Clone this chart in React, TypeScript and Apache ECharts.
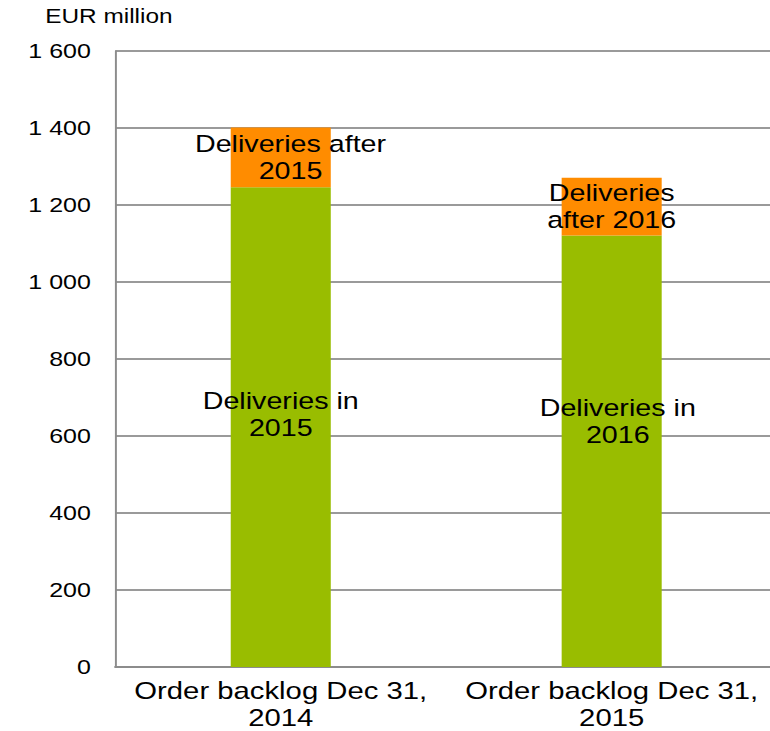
import React, { useEffect, useRef } from "react";
import * as echarts from "echarts";

const categories = ["Order backlog Dec 31,\n2014", "Order backlog Dec 31,\n2015"];
const deliveriesIn = [1246, 1121];
const deliveriesAfter = [155, 150];
const inLabels = ["Deliveries in\n2015", "Deliveries in\n2016"];
const afterLabels = ["Deliveries after\n2015", "Deliveries\nafter 2016"];
const yTicks = { min: 0, max: 1600, interval: 200 };

const SX = 1.22;
const FONT = "'Liberation Sans', Arial, sans-serif";

const inOffsets = [[0, -13], [5, -30]];
const afterOffsets = [[8, 0], [0, 0]];

export default function App() {
  const ref = useRef<HTMLDivElement>(null);
  useEffect(() => {
    if (!ref.current) return;
    const chart = echarts.init(ref.current, null, { renderer: "svg" });
    const labelBase = {
      show: true,
      position: "inside",
      color: "#000",
      fontSize: 23.5,
      lineHeight: 27,
      fontFamily: FONT,
    };
    chart.setOption({
      animation: false,
      backgroundColor: "#fff",
      textStyle: { fontFamily: FONT },
      graphic: [
        {
          type: "text",
          left: 37,
          top: 6,
          style: { text: "EUR million", fontSize: 20, fontFamily: FONT, fill: "#000" },
        },
      ],
      grid: { left: 94.5, top: 51, width: 542.5, height: 618, containLabel: false },
      xAxis: {
        type: "category",
        data: categories,
        axisLine: { show: true, lineStyle: { color: "#8c8c8c", width: 2 } },
        axisTick: { show: false },
        axisLabel: {
          interval: 0,
          color: "#000",
          fontSize: 24,
          lineHeight: 27,
          margin: 10,
          fontFamily: FONT,
        },
      },
      yAxis: {
        type: "value",
        min: yTicks.min,
        max: yTicks.max,
        interval: yTicks.interval,
        axisLine: { show: true, lineStyle: { color: "#8c8c8c", width: 1.6 } },
        axisTick: { show: false },
        splitLine: { show: true, lineStyle: { color: "#9a9a9a", width: 2 } },
        axisLabel: {
          color: "#000",
          fontSize: 20.5,
          margin: 20,
          fontFamily: FONT,
          formatter: (v: number) => String(v).replace(/\B(?=(\d{3})+(?!\d))/g, " "),
        },
      },
      series: [
        {
          name: "Deliveries in",
          type: "bar",
          stack: "total",
          barWidth: 82,
          itemStyle: { color: "#99BD00" },
          label: labelBase,
          data: deliveriesIn.map((v, i) => ({
            value: v,
            label: { ...labelBase, formatter: inLabels[i], offset: inOffsets[i] },
          })),
        },
        {
          name: "Deliveries after",
          type: "bar",
          stack: "total",
          barWidth: 82,
          itemStyle: { color: "#FF8C00" },
          label: labelBase,
          data: deliveriesAfter.map((v, i) => ({
            value: v,
            label: { ...labelBase, formatter: afterLabels[i], offset: afterOffsets[i] },
          })),
        },
      ],
    });
    return () => chart.dispose();
  }, []);
  return (
    <div
      style={{
        position: "fixed",
        left: 0,
        top: 0,
        width: 770,
        height: 731,
        overflow: "hidden",
        background: "#fff",
      }}
    >
      <div
        ref={ref}
        style={{
          width: 645,
          height: 731,
          transform: `scaleX(${SX})`,
          transformOrigin: "left top",
        }}
      />
    </div>
  );
}
